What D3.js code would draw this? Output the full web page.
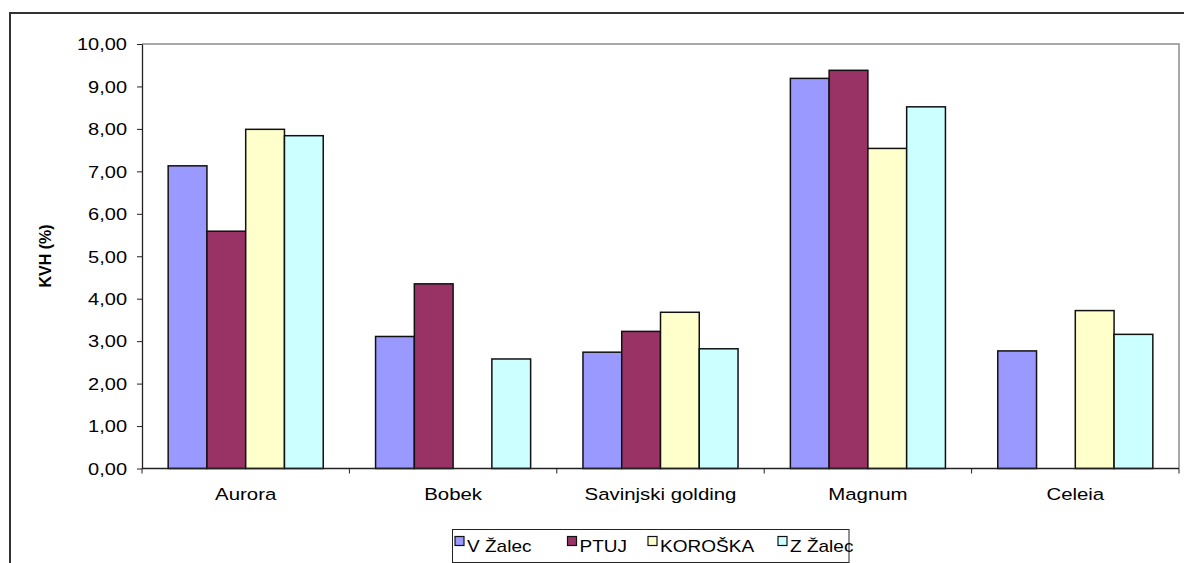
<!DOCTYPE html>
<html>
<head>
<meta charset="utf-8">
<script src="https://cdn.jsdelivr.net/npm/d3@7"></script>
<style>
  body { margin: 0; background: #fff; }
  svg { display: block; font-family: "Liberation Sans", Arial, sans-serif; }
</style>
</head>
<body>
<svg width="1184" height="563"></svg>
<script>
// data
var categories = ["Aurora", "Bobek", "Savinjski golding", "Magnum", "Celeia"];
var seriesNames = ["V Žalec", "PTUJ", "KOROŠKA", "Z Žalec"];
var seriesColors = ["#9999ff", "#993366", "#ffffcc", "#ccffff"];
// null = no bar
var vZalec = [7.13, 3.11, 2.74, 9.19, 2.77];
var ptuj = [5.59, 4.35, 3.23, 9.38, null];
var koroska = [7.99, null, 3.68, 7.54, 3.72];
var zZalec = [7.84, 2.58, 2.82, 8.52, 3.16];
var yTicks = [0, 1, 2, 3, 4, 5, 6, 7, 8, 9, 10];
var yLabel = "KVH (%)";

var seriesValues = [vZalec, ptuj, koroska, zZalec];

var svg = d3.select("svg");
var stretch = 1.25; // text in the picture is wider than normal

var plotL = 142, plotR = 1179, plotT = 44, plotB = 468.5;

var x = d3.scaleBand().domain(categories).range([plotL, plotR]).paddingInner(0).paddingOuter(0);
var xs = d3.scaleBand().domain(seriesNames).range([0, x.bandwidth()]).paddingInner(0).paddingOuter(0.675);
var y = d3.scaleLinear().domain([0, 10]).range([plotB, plotT]);

var fmt = function(d) { return d3.format(".2f")(d).replace(".", ","); };

// outer chart border (cut at right and bottom)
svg.append("path")
  .attr("d", "M10,563 V13 H1184")
  .attr("fill", "none")
  .attr("stroke", "#333")
  .attr("stroke-width", 2);

// plot area border (top and right)
svg.append("path")
  .attr("d", "M" + plotL + "," + plotT + " H" + plotR + " V" + plotB)
  .attr("fill", "none")
  .attr("stroke", "#8c8c8c")
  .attr("stroke-width", 1.5);

// bars
var rows = [];
categories.forEach(function(c, i) {
  seriesNames.forEach(function(s, j) {
    var v = seriesValues[j][i];
    if (v != null) rows.push({cat: c, s: s, j: j, v: v});
  });
});

svg.append("g")
  .selectAll("rect")
  .data(rows)
  .enter().append("rect")
  .attr("x", function(d) { return x(d.cat) + xs(d.s); })
  .attr("y", function(d) { return y(d.v); })
  .attr("width", xs.bandwidth())
  .attr("height", function(d) { return y(0) - y(d.v); })
  .attr("fill", function(d) { return seriesColors[d.j]; })
  .attr("stroke", "#111")
  .attr("stroke-width", 1.5);

// y axis
var yAxis = svg.append("g")
  .attr("transform", "translate(" + plotL + ",0)")
  .call(d3.axisLeft(y).tickValues(yTicks).tickFormat(fmt).tickSize(5).tickSizeOuter(0));
yAxis.select(".domain").attr("stroke", "#222").attr("stroke-width", 1.3);
yAxis.selectAll(".tick line").attr("stroke", "#222");
yAxis.selectAll("text")
  .attr("font-size", 16)
  .attr("font-family", "Liberation Sans, Arial, sans-serif")
  .attr("fill", "#000")
  .attr("x", -15 / stretch)
  .attr("dy", "0.36em")
  .attr("transform", "scale(" + stretch + ",1)");

// x axis
var xAxis = svg.append("g")
  .attr("transform", "translate(0," + plotB + ")");
xAxis.append("line")
  .attr("x1", plotL).attr("x2", plotR)
  .attr("stroke", "#222").attr("stroke-width", 1.3);
xAxis.selectAll(".sep")
  .data(categories.map(function(c) { return x(c); }).concat([plotR]))
  .enter().append("line")
  .attr("x1", function(d) { return d; }).attr("x2", function(d) { return d; })
  .attr("y1", 0).attr("y2", 5)
  .attr("stroke", "#222");
xAxis.selectAll(".lab")
  .data(categories)
  .enter().append("text")
  .attr("transform", function(d) {
    return "translate(" + (x(d) + x.bandwidth() / 2) + ",31) scale(1.2,1)";
  })
  .attr("text-anchor", "middle")
  .attr("font-size", 17)
  .text(function(d) { return d; });

// y label
svg.append("text")
  .attr("transform", "translate(51,256) rotate(-90)")
  .attr("text-anchor", "middle")
  .attr("font-size", 16)
  .attr("font-weight", "bold")
  .text(yLabel);

// legend
var legend = svg.append("g").attr("transform", "translate(452.5,529.5)");
legend.append("rect")
  .attr("width", 396.5).attr("height", 33)
  .attr("fill", "#fff").attr("stroke", "#222").attr("stroke-width", 1);
var legX = [2.5, 115, 195.5, 325.5];
var item = legend.selectAll(".item")
  .data(seriesNames)
  .enter().append("g")
  .attr("transform", function(d, i) { return "translate(" + legX[i] + ",7)"; });
item.append("rect")
  .attr("width", 9).attr("height", 9)
  .attr("fill", function(d, i) { return seriesColors[i]; })
  .attr("stroke", "#111").attr("stroke-width", 1.2);
item.append("text")
  .attr("transform", "translate(12,15) scale(1.12,1)")
  .attr("font-size", 17)
  .text(function(d) { return d; });
</script>
</body>
</html>
